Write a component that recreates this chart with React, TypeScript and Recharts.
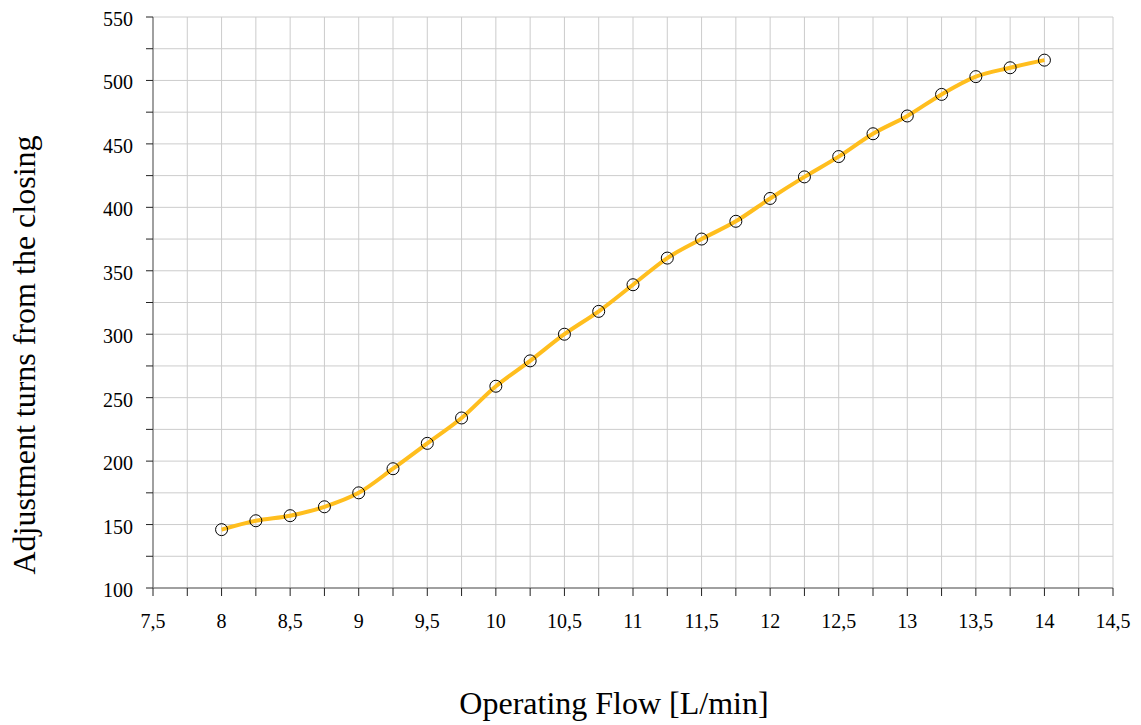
import { LineChart, Line, XAxis, YAxis, CartesianGrid, Label } from 'recharts';

const flow = [8, 8.25, 8.5, 8.75, 9, 9.25, 9.5, 9.75, 10, 10.25, 10.5, 10.75, 11, 11.25, 11.5, 11.75, 12, 12.25, 12.5, 12.75, 13, 13.25, 13.5, 13.75, 14];
const turns = [146, 153, 157, 164, 175, 194, 214, 234, 259, 279, 300, 318, 339, 360, 375, 389, 407, 424, 440, 458, 472, 489, 503, 510, 516];

const xTicks = [7.5, 7.75, 8, 8.25, 8.5, 8.75, 9, 9.25, 9.5, 9.75, 10, 10.25, 10.5, 10.75, 11, 11.25, 11.5, 11.75, 12, 12.25, 12.5, 12.75, 13, 13.25, 13.5, 13.75, 14, 14.25, 14.5];
const yTicks = [100, 125, 150, 175, 200, 225, 250, 275, 300, 325, 350, 375, 400, 425, 450, 475, 500, 525, 550];

const data = flow.map((f, i) => ({ flow: f, turns: turns[i] }));

const font = '"Liberation Serif", "Times New Roman", serif';

const fmtX = (v: number) => (Math.round(v * 4) % 2 === 0 ? String(v).replace('.', ',') : '');
const fmtY = (v: number) => (v % 50 === 0 ? String(v) : '');

const renderXTick = (props: any) => (
  <text
    key={`xt-${props.payload.value}`}
    x={props.x}
    y={props.y + 30}
    textAnchor="middle"
    fontFamily={font}
    fontSize={20}
    fill="#000"
  >
    {fmtX(props.payload.value)}
  </text>
);

const renderYTick = (props: any) => (
  <text
    key={`yt-${props.payload.value}`}
    x={props.x - 11}
    y={props.y + 9}
    textAnchor="end"
    fontFamily={font}
    fontSize={20}
    fill="#000"
  >
    {fmtY(props.payload.value)}
  </text>
);

export default function App() {
  return (
    <div style={{ position: 'absolute', left: 0, top: 0, width: 1141, height: 725, background: '#fff', fontFamily: font }}>
      <LineChart width={1141} height={725} data={data} margin={{ top: 17, right: 28, bottom: 0, left: 0 }}>
        <CartesianGrid stroke="#cccccc" strokeWidth={1} />
        <XAxis
          dataKey="flow"
          type="number"
          domain={[7.5, 14.5]}
          ticks={xTicks}
          interval={0}
          height={137}
          tickSize={8}
          tickMargin={2}
          axisLine={{ stroke: '#888888', strokeWidth: 1.5 }}
          tickLine={{ stroke: '#222222' }}
          tick={renderXTick}
        >
          <Label
            content={() => (
              <text x={614} y={714} textAnchor="middle" fontFamily={font} fontSize={32} fill="#000">
                Operating Flow [L/min]
              </text>
            )}
          />
        </XAxis>
        <YAxis
          type="number"
          domain={[100, 550]}
          ticks={yTicks}
          interval={0}
          width={153}
          tickSize={7}
          tickMargin={2}
          axisLine={{ stroke: '#888888', strokeWidth: 1.5 }}
          tickLine={{ stroke: '#222222' }}
          tick={renderYTick}
        >
          <Label
            content={() => (
              <text x={35} y={355} transform="rotate(-90 35 355)" textAnchor="middle" fontFamily={font} fontSize={32} fill="#000">
                Adjustment turns from the closing
              </text>
            )}
          />
        </YAxis>
        <Line
          type="monotone"
          dataKey="turns"
          stroke="#FFBE1E"
          strokeWidth={4}
          dot={{ r: 6, fill: 'none', stroke: '#000', strokeWidth: 1 }}
          isAnimationActive={false}
        />
      </LineChart>
    </div>
  );
}
